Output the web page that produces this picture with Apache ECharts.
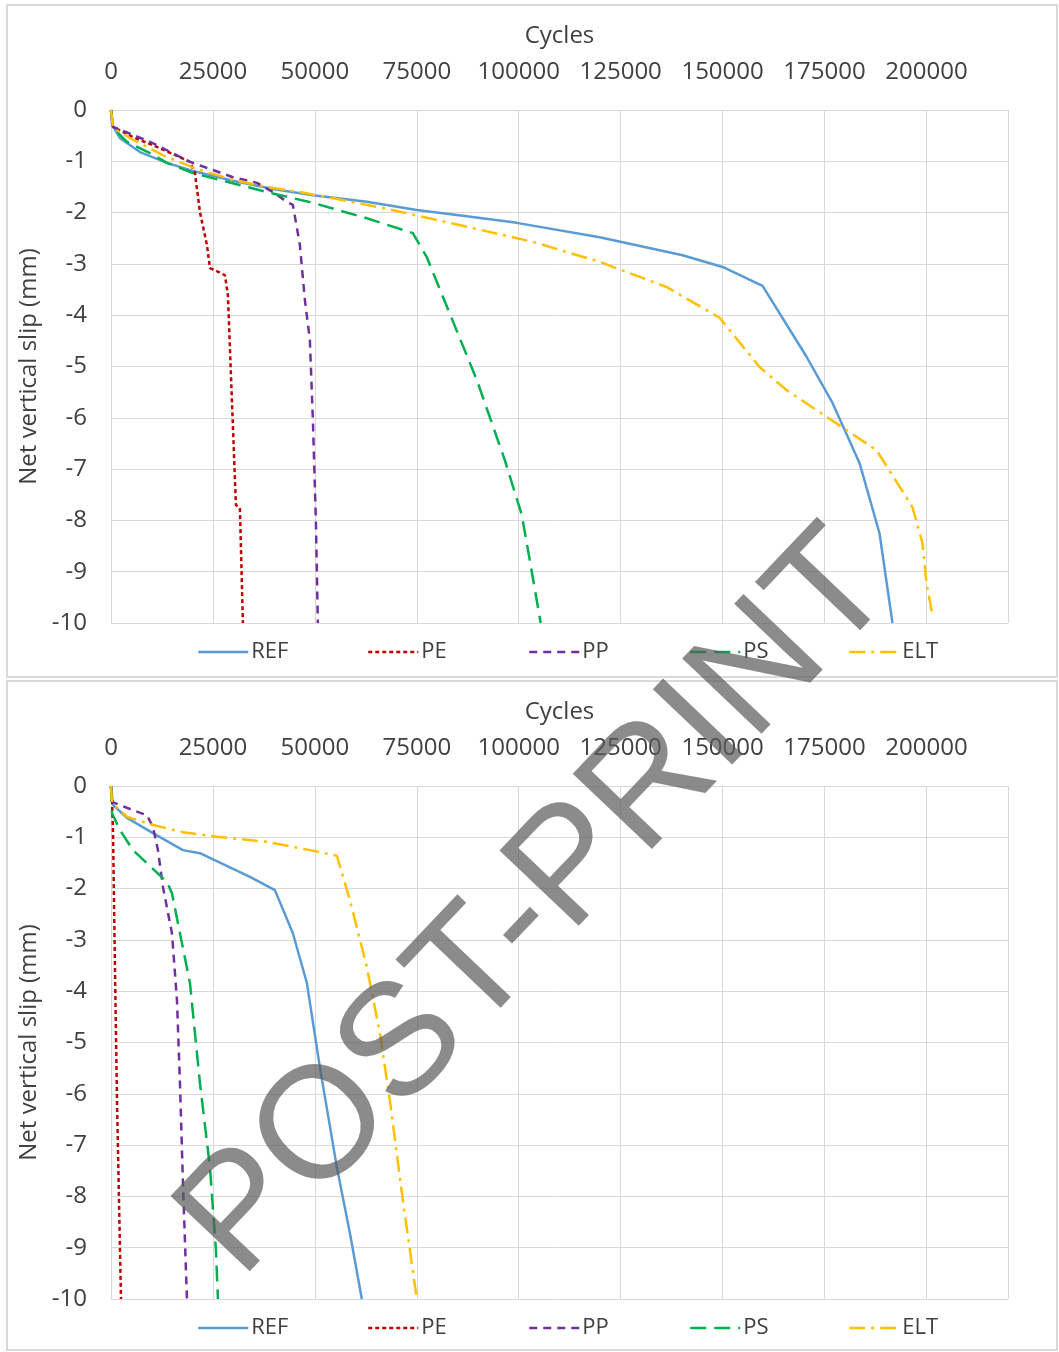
<!DOCTYPE html>
<html>
<head>
<meta charset="utf-8">
<script src="https://cdn.jsdelivr.net/npm/echarts@6/dist/echarts.min.js"></script>
<style>
  html, body { margin: 0; padding: 0; background: #fff; }
  #chart { width: 1059px; height: 1352px; }
</style>
</head>
<body>
<div id="chart"></div>
<script>
// x ticks (cycles) and y ticks (net vertical slip, mm)
const xTicks = [0, 25000, 50000, 75000, 100000, 125000, 150000, 175000, 200000];
const yTicks = [0, -1, -2, -3, -4, -5, -6, -7, -8, -9, -10];
const seriesNames = ['REF', 'PE', 'PP', 'PS', 'ELT'];

// top chart data [cycles, slip]
const topRef = [[0, 0], [245, -0.29], [2206, -0.55], [7108, -0.82], [13726, -1.03], [20098, -1.19],
  [29902, -1.38], [39706, -1.54], [49510, -1.66], [62746, -1.79], [75000, -1.95], [87256, -2.07],
  [99510, -2.2], [119854, -2.48], [140197, -2.83], [150000, -3.06], [159805, -3.43], [170590, -4.81],
  [176962, -5.71], [183580, -6.88], [188482, -8.25], [191668, -10]];
const topPe = [[0, 0], [490, -0.33], [5392, -0.53], [11275, -0.72], [19363, -1.01], [20588, -1.23],
  [21814, -1.99], [23530, -2.63], [24265, -3.08], [27941, -3.22], [28677, -3.61], [30637, -7.7],
  [31618, -7.76], [32353, -10]];
const topPp = [[0, 0], [490, -0.33], [9559, -0.62], [19363, -1.01], [29902, -1.31], [35785, -1.42],
  [39706, -1.6], [43138, -1.79], [44608, -1.85], [46324, -2.63], [47550, -3.7], [48775, -4.48],
  [49510, -6.04], [50245, -7.99], [50736, -10]];
const topPs = [[0, 0], [490, -0.35], [3922, -0.62], [9559, -0.84], [13726, -1.03], [20098, -1.23],
  [28432, -1.4], [38236, -1.6], [49510, -1.81], [62746, -2.11], [74020, -2.4], [77452, -2.87],
  [89707, -5.26], [96569, -6.82], [100736, -7.89], [102697, -8.77], [105393, -10]];
const topElt = [[0, 0], [490, -0.35], [5392, -0.58], [13726, -0.92], [21814, -1.17], [29902, -1.36],
  [38236, -1.5], [46324, -1.6], [54412, -1.72], [66667, -1.91], [83089, -2.2], [103432, -2.57],
  [119854, -2.96], [136276, -3.45], [149266, -4.05], [159070, -5.01], [165688, -5.46],
  [175492, -5.98], [187747, -6.63], [196570, -7.74], [199021, -8.44], [200001, -9.22], [201470, -9.84]];

// bottom chart data [cycles, slip]
const botRef = [[0, 0], [490, -0.37], [3922, -0.62], [10294, -0.92], [17647, -1.25], [21814, -1.31],
  [34069, -1.77], [40196, -2.03], [44608, -2.87], [48040, -3.84], [51226, -5.48], [55393, -7.43],
  [58579, -8.71], [61520, -10]];
const botPe = [[0, 0], [245, -0.27], [490, -0.86], [980, -3.59], [1471, -6.12], [1961, -8.07], [2451, -10]];
const botPp = [[0, 0], [245, -0.31], [5392, -0.47], [8824, -0.57], [10294, -0.8], [11520, -1.25],
  [12745, -1.97], [14951, -2.87], [16177, -4.17], [16912, -5.79], [17647, -7.74], [18628, -10]];
const botPs = [[0, 0], [245, -0.53], [2206, -0.86], [5392, -1.25], [9559, -1.56], [13726, -1.87],
  [14951, -2.09], [16912, -2.87], [19363, -3.84], [21814, -5.79], [24265, -7.43], [25735, -9.04],
  [26225, -10]];
const botElt = [[0, 0], [245, -0.33], [3922, -0.6], [10294, -0.76], [17647, -0.9], [25980, -0.99],
  [38236, -1.09], [48775, -1.25], [55393, -1.36], [58579, -2.22], [62746, -3.53], [65932, -4.81],
  [68383, -6.12], [71569, -8.07], [75000, -10]];

const styles = {
  REF: { color: '#5b9bd5', type: 'solid' },
  PE: { color: '#c00000', type: [4, 3] },
  PP: { color: '#7030a0', type: [8, 6] },
  PS: { color: '#00b050', type: [16, 8] },
  ELT: { color: '#ffc000', type: [16, 6, 3, 6] }
};

const chart = echarts.init(document.getElementById('chart'));
const font = '"Open Sans", sans-serif';
const gridTops = [110, 786];

function makeSeries(name, data, idx) {
  return {
    name: name,
    type: 'line',
    xAxisIndex: idx,
    yAxisIndex: idx,
    data: data,
    symbol: 'none',
    smooth: false,
    color: styles[name].color,
    lineStyle: { color: styles[name].color, width: 2.5, type: styles[name].type }
  };
}

function makeXAxis(idx) {
  return {
    type: 'value',
    gridIndex: idx,
    position: 'top',
    min: 0,
    max: 220000,
    interval: 25000,
    name: 'Cycles',
    nameLocation: 'middle',
    nameGap: 62,
    nameTextStyle: { fontSize: 24, color: '#404040', fontFamily: font },
    axisLine: { show: true, lineStyle: { color: '#d9d9d9' } },
    axisTick: { show: false },
    axisLabel: {
      fontSize: 24, color: '#404040', fontFamily: font, margin: 26,
      showMaxLabel: false,
      formatter: v => (xTicks.indexOf(v) >= 0 ? String(v) : '')
    },
    splitLine: { show: true, lineStyle: { color: '#d9d9d9', width: 1 } }
  };
}

function makeYAxis(idx) {
  return {
    type: 'value',
    gridIndex: idx,
    min: -10,
    max: 0,
    interval: 1,
    name: 'Net vertical slip (mm)',
    nameLocation: 'middle',
    nameGap: 62,
    nameRotate: 90,
    nameTextStyle: { fontSize: 24, color: '#404040', fontFamily: font },
    axisLine: { show: true, lineStyle: { color: '#d9d9d9' } },
    axisTick: { show: false },
    axisLabel: {
      fontSize: 24, color: '#404040', fontFamily: font, margin: 24,
      formatter: v => (yTicks.indexOf(v) >= 0 ? String(v) : '')
    },
    splitLine: { show: true, lineStyle: { color: '#d9d9d9', width: 1 } }
  };
}

// one legend per item, placed like the original
const legendLefts = [192, 362, 523, 684, 843];
const legendTops = [636, 1312];
const legends = [];
for (let g = 0; g < 2; g++) {
  for (let i = 0; i < seriesNames.length; i++) {
    legends.push({
      data: [seriesNames[i]],
      left: legendLefts[i],
      top: legendTops[g],
      itemWidth: 50,
      itemHeight: 14,
      itemGap: 0,
      selectedMode: false,
      itemStyle: { opacity: 0 },
      lineStyle: { width: 2.5 },
      textStyle: { fontSize: 22, color: '#404040', fontFamily: font, padding: [0, 0, 0, -2] }
    });
  }
}

const series = [];
[topRef, topPe, topPp, topPs, topElt].forEach((d, i) => series.push(makeSeries(seriesNames[i], d, 0)));
[botRef, botPe, botPp, botPs, botElt].forEach((d, i) => series.push(makeSeries(seriesNames[i], d, 1)));

chart.setOption({
  animation: false,
  backgroundColor: '#fff',
  grid: gridTops.map(t => ({ left: 111, top: t, width: 897, height: 513 })),
  xAxis: [makeXAxis(0), makeXAxis(1)],
  yAxis: [makeYAxis(0), makeYAxis(1)],
  legend: legends,
  series: series,
  graphic: [
    { type: 'rect', shape: { x: 7, y: 5, width: 1050, height: 672 }, style: { fill: 'none', stroke: '#d9d9d9', lineWidth: 2 }, z: -1 },
    { type: 'rect', shape: { x: 7, y: 681, width: 1050, height: 669 }, style: { fill: 'none', stroke: '#d9d9d9', lineWidth: 2 }, z: -1 },
    {
      type: 'text',
      x: 538, y: 905,
      rotation: 0.81,
      z: 100,
      style: {
        text: 'POST-PRINT',
        fontSize: 159,
        fontFamily: '"Liberation Sans", Arial, sans-serif',
        fill: 'rgba(90,90,90,0.7)',
        align: 'center',
        verticalAlign: 'middle'
      }
    }
  ]
});
</script>
</body>
</html>
